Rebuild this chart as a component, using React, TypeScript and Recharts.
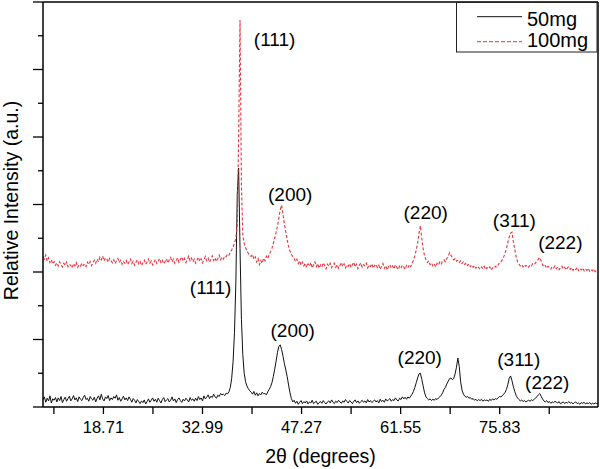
import { LineChart, Line, XAxis, YAxis, ReferenceLine, ReferenceDot } from "recharts";

const FONT = "'Liberation Sans', Arial, Helvetica, sans-serif";

// XRD scan: 10° to 90° 2θ in 0.2° steps (one value per step)
const SCAN_START = 10;
const SCAN_STEP = 0.2;

const seriesNames = ["50mg", "100mg"];

// relative intensity, 50mg sample
const intensity50mg = [
  0.22, 0.30, 0.14, 0.26, 0.18, 0.33, 0.12, 0.24, 0.20, 0.28,
  0.15, 0.27, 0.19, 0.31, 0.13, 0.22, 0.29, 0.17, 0.25, 0.32,
  0.18, 0.24, 0.34, 0.21, 0.27, 0.16, 0.30, 0.23, 0.19, 0.28,
  0.35, 0.22, 0.26, 0.17, 0.31, 0.24, 0.20, 0.29, 0.15, 0.26,
  0.33, 0.21, 0.38, 0.24, 0.18, 0.30, 0.25, 0.34, 0.19, 0.27,
  0.22, 0.31, 0.26, 0.36, 0.20, 0.28, 0.17, 0.24, 0.32, 0.21,
  0.27, 0.19, 0.30, 0.23, 0.14, 0.25, 0.20, 0.12, 0.22, 0.16,
  0.10, 0.18, 0.13, 0.21, 0.09, 0.16, 0.24, 0.14, 0.20, 0.27,
  0.17, 0.23, 0.14, 0.26, 0.19, 0.12, 0.22, 0.28, 0.16, 0.21,
  0.25, 0.15, 0.20, 0.30, 0.18, 0.24, 0.13, 0.22, 0.27, 0.19,
  0.14, 0.23, 0.18, 0.26, 0.21, 0.15, 0.28, 0.20, 0.24, 0.17,
  0.26, 0.19, 0.31, 0.22, 0.27, 0.18, 0.33, 0.24, 0.29, 0.36,
  0.25, 0.32, 0.28, 0.38, 0.30, 0.26, 0.35, 0.31, 0.40, 0.36,
  0.38, 0.34, 0.41, 0.39, 0.45, 0.58, 0.85, 1.35, 2.20, 3.70,
  6.30, 7.08, 4.70, 2.60, 1.55, 1.00, 0.75, 0.62, 0.54, 0.48,
  0.44, 0.38, 0.46, 0.35, 0.42, 0.33, 0.40, 0.36, 0.44, 0.39,
  0.40, 0.36, 0.45, 0.52, 0.60, 0.72, 0.90, 1.12, 1.36, 1.62,
  1.80, 1.84, 1.70, 1.50, 1.28, 1.10, 0.90, 0.65, 0.42, 0.25,
  0.15, 0.20, 0.11, 0.17, 0.08, 0.14, 0.19, 0.10, 0.16, 0.12,
  0.18, 0.09, 0.15, 0.12, 0.20, 0.10, 0.14, 0.17, 0.08, 0.13,
  0.16, 0.11, 0.19, 0.13, 0.09, 0.15, 0.18, 0.12, 0.21, 0.14,
  0.10, 0.17, 0.13, 0.20, 0.15, 0.11, 0.18, 0.14, 0.22, 0.16,
  0.12, 0.19, 0.15, 0.10, 0.17, 0.21, 0.13, 0.18, 0.11, 0.16,
  0.20, 0.14, 0.18, 0.12, 0.22, 0.15, 0.19, 0.13, 0.17, 0.21,
  0.15, 0.19, 0.12, 0.23, 0.16, 0.20, 0.14, 0.24, 0.18, 0.21,
  0.25, 0.17, 0.22, 0.19, 0.27, 0.21, 0.18, 0.26, 0.22, 0.30,
  0.24, 0.29, 0.23, 0.30, 0.26, 0.32, 0.38, 0.46, 0.58, 0.72,
  0.86, 0.98, 1.00, 0.82, 0.62, 0.42, 0.30, 0.25, 0.21, 0.24,
  0.19, 0.23, 0.20, 0.25, 0.22, 0.27, 0.30, 0.35, 0.42, 0.52,
  0.58, 0.68, 0.76, 0.84, 0.86, 0.81, 0.84, 0.98, 1.18, 1.45,
  1.20, 0.75, 0.50, 0.38, 0.32, 0.29, 0.31, 0.26, 0.28, 0.23,
  0.25, 0.20, 0.23, 0.18, 0.22, 0.19, 0.23, 0.17, 0.21, 0.19,
  0.21, 0.17, 0.23, 0.19, 0.24, 0.21, 0.25, 0.23, 0.27, 0.31,
  0.30, 0.33, 0.38, 0.43, 0.52, 0.66, 0.85, 0.92, 0.78, 0.60,
  0.46, 0.34, 0.27, 0.22, 0.18, 0.21, 0.16, 0.19, 0.15, 0.18,
  0.20, 0.17, 0.21, 0.19, 0.23, 0.26, 0.31, 0.36, 0.40, 0.32,
  0.24, 0.18, 0.15, 0.19, 0.13, 0.16, 0.11, 0.15, 0.13, 0.17,
  0.14, 0.12, 0.16, 0.09, 0.13, 0.15, 0.10, 0.14, 0.12, 0.16,
  0.11, 0.14, 0.09, 0.13, 0.15, 0.10, 0.12, 0.08, 0.13, 0.11,
  0.14, 0.09, 0.12, 0.10, 0.13, 0.08, 0.11, 0.09, 0.12, 0.10,
  0.11,
];

// relative intensity, 100mg sample (offset upwards in the plot)
const intensity100mg = [
  4.45, 4.38, 4.50, 4.32, 4.42, 4.28, 4.36, 4.24, 4.31, 4.20,
  4.27, 4.18, 4.30, 4.22, 4.15, 4.26, 4.19, 4.29, 4.16, 4.23,
  4.20, 4.12, 4.25, 4.18, 4.28, 4.14, 4.21, 4.17, 4.26, 4.19,
  4.24, 4.16, 4.29, 4.22, 4.31, 4.19, 4.27, 4.35, 4.26, 4.38,
  4.30, 4.44, 4.36, 4.47, 4.33, 4.42, 4.38, 4.29, 4.40, 4.34,
  4.27, 4.36, 4.25, 4.33, 4.40, 4.28, 4.35, 4.23, 4.31, 4.26,
  4.34, 4.22, 4.30, 4.38, 4.25, 4.32, 4.20, 4.29, 4.36, 4.24,
  4.31, 4.19, 4.27, 4.35, 4.23, 4.30, 4.38, 4.26, 4.33, 4.21,
  4.29, 4.37, 4.25, 4.32, 4.40, 4.28, 4.35, 4.24, 4.31, 4.39,
  4.27, 4.36, 4.43, 4.30, 4.38, 4.26, 4.34, 4.42, 4.29, 4.37,
  4.45, 4.32, 4.40, 4.28, 4.36, 4.47, 4.33, 4.41, 4.30, 4.38,
  4.26, 4.35, 4.44, 4.31, 4.39, 4.27, 4.37, 4.46, 4.33, 4.41,
  4.29, 4.38, 4.48, 4.34, 4.42, 4.31, 4.40, 4.50, 4.36, 4.44,
  4.38, 4.47, 4.45, 4.53, 4.50, 4.58, 4.65, 4.75, 4.85, 5.00,
  5.40, 8.00, 11.47, 6.60, 5.10, 4.85, 4.72, 4.62, 4.55, 4.50,
  4.46, 4.52, 4.38, 4.45, 4.30, 4.40, 4.22, 4.34, 4.26, 4.41,
  4.33, 4.47, 4.40, 4.52, 4.60, 4.70, 4.85, 5.00, 5.18, 5.36,
  5.60, 5.85, 5.98, 5.70, 5.42, 5.18, 4.95, 4.76, 4.62, 4.52,
  4.46, 4.40, 4.31, 4.38, 4.25, 4.33, 4.20, 4.29, 4.18, 4.26,
  4.14, 4.24, 4.17, 4.28, 4.12, 4.22, 4.30, 4.16, 4.25, 4.11,
  4.21, 4.15, 4.27, 4.19, 4.09, 4.23, 4.17, 4.26, 4.13, 4.20,
  4.26, 4.14, 4.22, 4.11, 4.19, 4.28, 4.16, 4.24, 4.12, 4.21,
  4.17, 4.25, 4.13, 4.22, 4.29, 4.15, 4.23, 4.10, 4.20, 4.27,
  4.14, 4.22, 4.18, 4.26, 4.12, 4.21, 4.16, 4.24, 4.11, 4.19,
  4.23, 4.13, 4.20, 4.08, 4.17, 4.25, 4.11, 4.19, 4.06, 4.16,
  4.22, 4.12, 4.18, 4.09, 4.21, 4.14, 4.07, 4.17, 4.11, 4.20,
  4.15, 4.08, 4.19, 4.12, 4.22, 4.16, 4.26, 4.35, 4.48, 4.66,
  4.85, 5.15, 5.37, 5.00, 4.68, 4.48, 4.36, 4.28, 4.33, 4.22,
  4.27, 4.18, 4.24, 4.15, 4.26, 4.21, 4.30, 4.24, 4.33, 4.36,
  4.30, 4.40, 4.46, 4.57, 4.50, 4.42, 4.36, 4.40, 4.32, 4.35,
  4.28, 4.33, 4.25, 4.30, 4.22, 4.27, 4.19, 4.24, 4.16, 4.21,
  4.14, 4.19, 4.11, 4.17, 4.13, 4.08, 4.15, 4.10, 4.17, 4.07,
  4.13, 4.09, 4.15, 4.06, 4.12, 4.10, 4.17, 4.14, 4.21, 4.28,
  4.30, 4.36, 4.44, 4.55, 4.70, 4.88, 5.04, 5.15, 5.18, 4.90,
  4.68, 4.45, 4.30, 4.24, 4.18, 4.22, 4.15, 4.21, 4.17, 4.20,
  4.14, 4.21, 4.18, 4.25, 4.22, 4.27, 4.32, 4.38, 4.43, 4.33,
  4.22, 4.15, 4.19, 4.11, 4.17, 4.13, 4.08, 4.16, 4.12, 4.18,
  4.10, 4.15, 4.07, 4.13, 4.17, 4.09, 4.14, 4.06, 4.12, 4.16,
  4.08, 4.13, 4.05, 4.11, 4.07, 4.14, 4.04, 4.10, 4.06, 4.12,
  4.03, 4.09, 4.05, 4.11, 4.02, 4.07, 4.04, 4.09, 4.01, 4.06,
  4.03,
];

const xTicks = [11.57, 18.71, 25.85, 32.99, 40.13, 47.27, 54.41, 61.55, 68.69, 75.83, 82.97];
const xTickLabels = [18.71, 32.99, 47.27, 61.55, 75.83];
const yTicks = [0, 1, 2, 3, 4, 5, 6, 7, 8, 9, 10, 11, 12];

// Miller index annotations (2θ, intensity)
const peaks50mg = [
  { text: "(111)", angle: 34.16, level: 3.56 },
  { text: "(200)", angle: 45.99, level: 2.28 },
  { text: "(220)", angle: 64.31, level: 1.48 },
  { text: "(311)", angle: 78.58, level: 1.42 },
  { text: "(222)", angle: 82.69, level: 0.74 },
];
const peaks100mg = [
  { text: "(111)", angle: 43.39, level: 10.9 },
  { text: "(200)", angle: 45.63, level: 6.31 },
  { text: "(220)", angle: 65.17, level: 5.78 },
  { text: "(311)", angle: 77.94, level: 5.54 },
  { text: "(222)", angle: 84.57, level: 4.89 },
];

const rows = intensity50mg.map((v, i) => ({
  angle: +(SCAN_START + i * SCAN_STEP).toFixed(1),
  s50: v,
  s100: intensity100mg[i],
}));

const RED = "#e8323c";

function YTick(props: any) {
  const { x, y, payload } = props;
  const len = payload.value % 2 === 0 ? 10 : 5;
  return <line x1={x - len} x2={x} y1={y} y2={y} stroke="#000" strokeWidth={1.3} />;
}

function YTitle(props: any) {
  const vb = props.viewBox || { y: 2, height: 405 };
  const cx = 11;
  const cy = vb.y + vb.height / 2 - 4;
  return (
    <text
      x={cx}
      y={cy}
      transform={`rotate(-90 ${cx} ${cy})`}
      textAnchor="middle"
      dominantBaseline="central"
      fontSize={19.5}
      fill="#000"
    >
      Relative Intensity (a.u.)
    </text>
  );
}

export default function App() {
  return (
    <div
      style={{
        position: "absolute",
        left: 0,
        top: 0,
        width: 600,
        height: 469,
        background: "#fff",
        fontFamily: FONT,
      }}
    >
      <LineChart
        width={600}
        height={469}
        data={rows}
        margin={{ top: 2, right: 2, bottom: 0, left: 0 }}
      >
        <XAxis
          dataKey="angle"
          type="number"
          domain={[10, 90]}
          ticks={xTicks}
          interval={0}
          tickFormatter={(v: number) => (xTickLabels.includes(v) ? v.toFixed(2) : "")}
          height={62}
          tickSize={7}
          tickMargin={7}
          axisLine={{ stroke: "#000", strokeWidth: 1.5 }}
          tickLine={{ stroke: "#000", strokeWidth: 1.3 }}
          tick={{ fontSize: 16.5, fill: "#000" }}
          label={{ value: "2θ (degrees)", position: "insideBottom", offset: 6, fontSize: 19.5, fill: "#000" }}
        />
        <YAxis
          type="number"
          domain={[0, 12]}
          ticks={yTicks}
          interval={0}
          width={43}
          tickSize={0}
          tickMargin={0}
          tickLine={false}
          axisLine={{ stroke: "#000", strokeWidth: 1.5 }}
          tick={(p: any) => <YTick {...p} />}
          label={<YTitle />}
        />
        <ReferenceLine y={12} stroke="#000" strokeWidth={1.5} />
        <ReferenceLine x={90} stroke="#000" strokeWidth={1.5} />
        <Line
          dataKey="s50"
          name={seriesNames[0]}
          stroke="#111"
          strokeWidth={1}
          dot={false}
          isAnimationActive={false}
        />
        <Line
          dataKey="s100"
          name={seriesNames[1]}
          stroke={RED}
          strokeWidth={1.1}
          strokeDasharray="3 2"
          dot={false}
          isAnimationActive={false}
        />
        {[...peaks50mg, ...peaks100mg].map((p, i) => (
          <ReferenceDot
            key={i}
            x={p.angle}
            y={p.level}
            r={0}
            fill="none"
            stroke="none"
            label={{ value: p.text, position: "center", fontSize: 19, fill: "#000" }}
          />
        ))}
      </LineChart>
      <svg
        width={142}
        height={51}
        style={{ position: "absolute", left: 456, top: 2 }}
      >
        <rect x={0.5} y={0.5} width={140.5} height={49.5} fill="#fff" stroke="#222" strokeWidth={1} />
        <line x1={21} x2={66} y1={14.7} y2={14.7} stroke="#111" strokeWidth={1} />
        <text x={71} y={24} fontSize={20} fill="#000" fontFamily={FONT}>
          {seriesNames[0]}
        </text>
        <line x1={21} x2={66} y1={39.7} y2={39.7} stroke={RED} strokeWidth={1} strokeDasharray="4 2" />
        <text x={71} y={45} fontSize={20} fill="#000" fontFamily={FONT}>
          {seriesNames[1]}
        </text>
      </svg>
    </div>
  );
}
